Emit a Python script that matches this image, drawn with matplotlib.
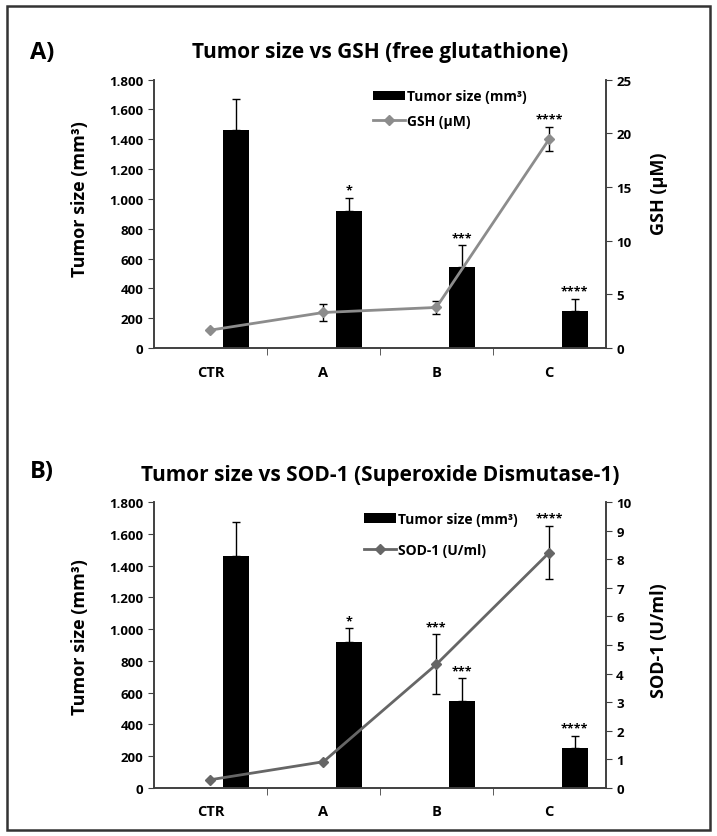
import matplotlib.pyplot as plt
from matplotlib.patches import Patch, Rectangle
from matplotlib.lines import Line2D
from matplotlib.ticker import FuncFormatter, FixedLocator

plt.rcParams['font.family'] = ['Open Sans', 'DejaVu Sans']
plt.rcParams['font.weight'] = 'bold'
plt.rcParams['axes.titleweight'] = 'bold'
plt.rcParams['axes.labelweight'] = 'bold'

groups = ['CTR', 'A', 'B', 'C']
tumor_size = [1463, 920, 544, 249]
tumor_err = [210, 85, 145, 80]
tumor_stars = ['', '*', '***', '****']

gsh = [1.67, 3.31, 3.78, 19.47]
gsh_err = [0, 0.8, 0.57, 1.1]
gsh_stars = ['', '', '', '****']

sod = [0.28, 0.91, 4.32, 8.24]
sod_err = [0, 0, 1.05, 0.93]
sod_stars = ['', '', '***', '****']

spine_col = '#404040'


def thousands(v, pos):
    return f'{int(v):,}'.replace(',', '.')


def draw_panel(fig, rect, title, vals, errs, stars, label, rmax, rstep,
               lcolor, leg_pos, leg_space, lab_y):
    ax = fig.add_axes(rect)
    ax2 = ax.twinx()
    x = range(len(groups))
    bx = [i + 0.225 for i in x]

    ax.bar(bx, tumor_size, width=0.23, color='black', zorder=2,
           yerr=[[0] * 4, tumor_err], capsize=3,
           error_kw=dict(ecolor='black', elinewidth=1, capthick=1))
    for xi, v, e, s in zip(bx, tumor_size, tumor_err, tumor_stars):
        if s:
            ax.annotate(s, (xi, v + e), xytext=(0, 1), textcoords='offset points',
                        ha='center', va='bottom', fontsize=9)

    ax2.errorbar(list(x), vals, yerr=errs, color=lcolor, marker='D', markersize=5,
                 linewidth=2, capsize=3, elinewidth=1, ecolor='black', capthick=1)
    for xi, v, e, s in zip(x, vals, errs, stars):
        if s:
            ax2.annotate(s, (xi, v + e), xytext=(0, 1), textcoords='offset points',
                         ha='center', va='bottom', fontsize=9)

    ax.set_xlim(-0.5, 3.5)
    ax.set_ylim(0, 1800)
    ax.set_yticks(range(0, 1801, 200))
    ax.yaxis.set_major_formatter(FuncFormatter(thousands))
    ax2.set_ylim(0, rmax)
    ax2.set_yticks([i * rstep for i in range(int(rmax / rstep) + 1)])

    ax.set_xticks(list(x))
    ax.set_xticklabels(groups, fontsize=10.5)
    ax.xaxis.set_minor_locator(FixedLocator([0.5, 1.5, 2.5]))
    ax.tick_params(axis='x', which='major', length=0, pad=12)
    ax.tick_params(axis='x', which='minor', length=5, direction='out', color=spine_col)
    ax.tick_params(axis='y', length=4, color=spine_col, labelsize=9.5)
    ax2.tick_params(axis='y', length=4, color=spine_col, labelsize=9.5)

    for a in (ax, ax2):
        a.spines['top'].set_visible(False)
        for sp in ('left', 'right', 'bottom'):
            a.spines[sp].set_color(spine_col)
            a.spines[sp].set_linewidth(1.2)

    ax.set_ylabel('Tumor size (mm³)', fontsize=13)
    ax.yaxis.set_label_coords(-0.145, lab_y[0])
    ax2.set_ylabel(label, fontsize=13)
    ax2.yaxis.set_label_coords(1.098, lab_y[1])

    ax.set_title(title, fontsize=15, pad=16)
    handles = [Patch(facecolor='black'),
               Line2D([], [], color=lcolor, marker='D', markersize=5, linewidth=2)]
    ax2.legend(handles, ['Tumor size (mm³)', label], loc='upper left',
               bbox_to_anchor=leg_pos, frameon=False, fontsize=10,
               handlelength=2.3, handletextpad=0.1, labelspacing=leg_space,
               borderpad=0)
    return ax


fig = plt.figure(figsize=(7.17, 8.37), dpi=100)

draw_panel(fig, [0.2148, 0.583, 0.630, 0.3207],
           'Tumor size vs GSH (free glutathione)', gsh, gsh_err, gsh_stars,
           'GSH (µM)', 25, 5, '#8c8c8c', (0.47, 0.99), 0.8, (0.56, 0.58))
draw_panel(fig, [0.2148, 0.0577, 0.630, 0.341],
           'Tumor size vs SOD-1 (Superoxide Dismutase-1)', sod, sod_err, sod_stars,
           'SOD-1 (U/ml)', 10, 1, '#666666', (0.45, 0.99), 1.2, (0.53, 0.52))

fig.text(0.042, 1 - 53 / 837, 'A)', fontsize=17, va='center', ha='left')
fig.text(0.042, 1 - 472 / 837, 'B)', fontsize=17, va='center', ha='left')

fig.patches.append(Rectangle((7 / 717, 1 - 830.7 / 837), 703 / 717, 823.7 / 837,
                             transform=fig.transFigure, fill=False,
                             edgecolor='#333333', linewidth=1.8))

fig.savefig('out.png', dpi=100)
